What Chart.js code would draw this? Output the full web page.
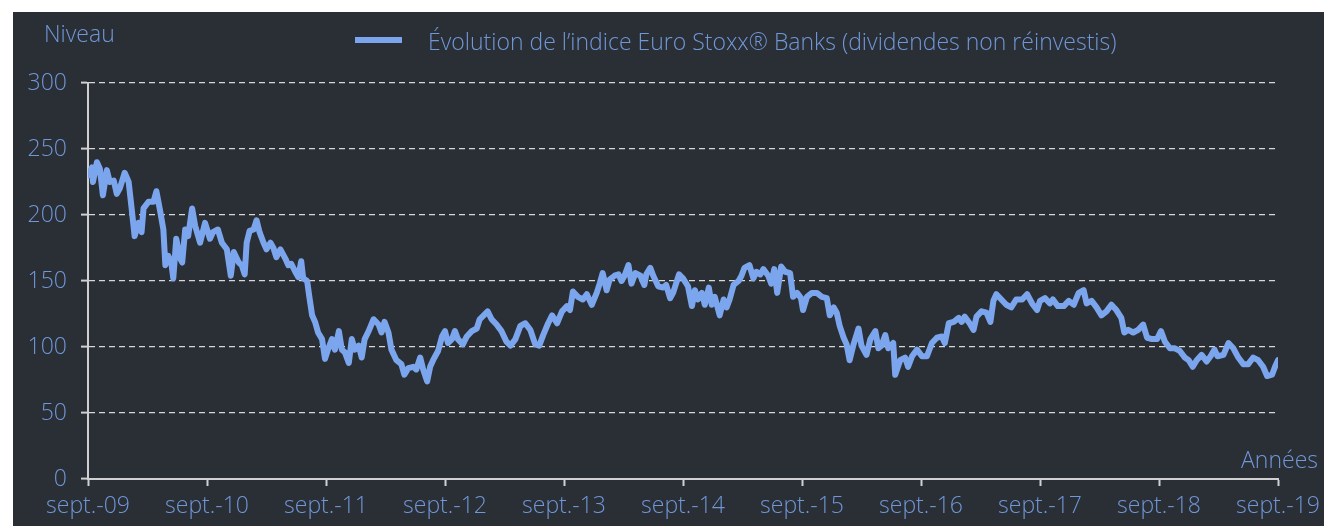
<!DOCTYPE html>
<html lang="fr">
<head>
<meta charset="utf-8">
<title>Euro Stoxx Banks</title>
<script src="https://cdn.jsdelivr.net/npm/chart.js@4"></script>
<style>
  html, body { margin: 0; padding: 0; background: #ffffff; }
  #wrap {
    position: absolute; left: 13px; top: 12px;
    width: 1311px; height: 514px;
    background: #2a2e35;
  }
</style>
</head>
<body>
<div id="wrap"><canvas id="chart"></canvas></div>
<script>
// Axis labels
const yearLabels = ['sept.-09', 'sept.-10', 'sept.-11', 'sept.-12', 'sept.-13', 'sept.-14',
                    'sept.-15', 'sept.-16', 'sept.-17', 'sept.-18', 'sept.-19'];
const seriesLabel = 'Évolution de l\u2019indice Euro Stoxx® Banks (dividendes non réinvestis)';
const yTitle = 'Niveau';
const xTitle = 'Années';

// Months since sept. 2009 and index level
const months = [
  0, 0.4, 0.5, 0.9, 1.2, 1.5, 1.9, 2.2, 2.6, 2.9, 3.2, 3.7, 4.1, 4.4, 4.7, 5.1, 5.4, 5.6, 6.1, 6.6,
  6.9, 7.3, 7.6, 7.8, 8.1, 8.4, 8.6, 8.9, 9.3, 9.5, 9.8, 10.1, 10.5, 10.8, 11.3, 11.8, 12.3, 12.6, 13.1, 13.5,
  14.0, 14.4, 14.7, 15.2, 15.5, 15.8, 16.0, 16.3, 16.7, 17.0, 17.3, 17.7, 18.0, 18.4, 18.7, 19.0, 19.4, 19.9, 20.2, 20.5,
  20.9, 21.2, 21.5, 21.7, 22.1, 22.3, 22.6, 22.9, 23.2, 23.6, 23.9, 24.2, 24.6, 24.9, 25.3, 25.6, 25.9, 26.3, 26.6, 26.9,
  27.3, 27.6, 27.9, 28.3, 28.8, 29.3, 29.6,
  29.9, 30.3, 30.6, 31.1, 31.6, 31.9, 32.3, 32.8, 33.1, 33.5, 33.8, 34.2, 34.5, 34.8, 35.3, 35.7, 36.0, 36.3, 36.7, 37.0,
  37.3, 37.8, 38.2, 38.7, 39.2, 39.5, 39.9, 40.3, 40.7, 41.2, 41.7, 42.2, 42.6, 43.1, 43.6, 44.1, 44.6, 45.1, 45.5, 45.9,
  46.4, 46.8, 47.3, 47.8, 48.3, 48.6, 48.9, 49.4, 49.9, 50.3, 50.8, 51.3, 51.6, 51.9, 52.3, 52.6, 53.1, 53.5, 53.8, 54.1,
  54.5, 54.8, 55.2, 55.7, 56.1, 56.3, 56.7, 57.0, 57.5, 58.0, 58.3, 58.7, 59.0,
  59.6, 60.0, 60.5, 60.9, 61.2, 61.5, 61.9, 62.2, 62.6, 62.9, 63.2, 63.7, 64.1, 64.4, 64.7, 65.1, 65.6, 65.9, 66.2, 66.7,
  67.1, 67.4, 67.8, 68.1, 68.6, 68.9, 69.2, 69.5, 69.9, 70.3, 70.8, 71.1, 71.5, 71.9, 72.1, 72.5, 73.0, 73.5, 74.0, 74.5,
  74.8, 75.2, 75.5, 75.8, 76.2, 76.5, 76.8, 77.2, 77.7, 78.0, 78.5, 78.9, 79.4, 79.7, 80.0, 80.4, 80.7, 81.2, 81.4, 81.9,
  82.4, 82.7, 83.1, 83.6, 84.1, 84.6, 85.1, 85.6, 86.1, 86.4, 86.8, 87.3, 87.8, 88.1, 88.4,
  88.9, 89.3, 89.6, 90.1, 90.6, 91.0, 91.3, 91.6, 92.1, 92.6, 93.1, 93.6, 94.2, 94.7, 95.2, 95.7, 96.0, 96.5, 97.0, 97.3,
  97.8, 98.4, 98.9, 99.4, 99.9, 100.4, 100.7, 101.2, 101.7, 102.2, 102.7, 103.2, 103.7, 104.2, 104.5, 104.9, 105.4, 105.9, 106.4, 106.8,
  107.3, 107.8, 108.2, 108.6, 109.1, 109.6, 110.1, 110.6, 111.0, 111.4, 111.8, 112.3, 112.8, 113.2, 113.6, 113.9, 114.5, 115.0, 115.5, 116.0,
  116.5, 117.0, 117.5, 118.0, 118.5, 118.9, 119.4, 119.7, 120.0
];
const values = [
  230, 236, 225, 240, 235, 215, 234, 225, 226, 216, 220, 232, 225, 205, 184, 194, 187, 205, 210, 210,
  218, 202, 189, 162, 169, 164, 152, 182, 167, 164, 189, 184, 205, 192, 179, 194, 182, 187, 189, 179,
  174, 154, 172, 164, 162, 155, 179, 188, 189, 196, 187, 179, 174, 179, 175, 168, 174, 167, 162, 163,
  157, 153, 165, 152, 150, 139, 124, 119, 111, 106, 91, 98, 106, 98, 112, 98, 96, 88, 106, 98,
  101, 92, 106, 112, 121, 117, 111,
  119, 111, 98, 90, 87, 79, 84, 85, 83, 92, 83, 74, 85, 90, 97, 108, 112, 103, 106, 112,
  106, 102, 108, 112, 114, 121, 124, 127, 121, 117, 112, 104, 101, 106, 116, 118, 113, 102, 101, 109,
  118, 124, 118, 127, 131, 128, 142, 138, 136, 140, 132, 141, 148, 156, 143, 151, 154, 155, 150, 154,
  162, 148, 156, 154, 147, 155, 160, 154, 146, 145, 147, 137, 141,
  155, 152, 146, 131, 143, 136, 141, 132, 145, 132, 138, 124, 136, 130, 136, 147, 150, 154, 160, 162,
  152, 157, 155, 159, 154, 148, 159, 141, 161, 157, 156, 138, 141, 137, 128, 138, 141, 141, 138, 137,
  124, 130, 126, 116, 107, 102, 90, 102, 114, 101, 94, 106, 112, 99, 101, 109, 99, 103, 79, 90,
  92, 85, 93, 98, 93, 93, 103, 107, 108, 103, 118, 119, 122, 119, 123,
  118, 113, 123, 127, 126, 119, 135, 140, 136, 132, 130, 136, 136, 140, 133, 128, 135, 137, 133, 136,
  131, 131, 135, 132, 141, 143, 133, 135, 130, 124, 127, 132, 128, 122, 111, 113, 111, 113, 117, 107,
  106, 106, 112, 104, 99, 99, 97, 92, 90, 85, 90, 94, 89, 93, 98, 93, 94, 103, 99, 92,
  87, 87, 92, 90, 85, 78, 79, 85, 90
];

const lineColor = '#7ba6ee';
const textColor = '#7097d8';
const axisColor = '#cfd0d2';
const fontFamily = '"Open Sans", "DejaVu Sans", sans-serif';
const fontSize = 23;

// Titles and legend drawn on the canvas
const labelsPlugin = {
  id: 'labels',
  afterDraw(chart) {
    const ctx = chart.ctx;
    const area = chart.chartArea;
    ctx.save();
    ctx.font = '300 ' + fontSize + 'px ' + fontFamily;
    ctx.fillStyle = textColor;
    ctx.textBaseline = 'middle';
    ctx.textAlign = 'left';
    ctx.fillText(yTitle, area.left - 44, 23);
    ctx.textAlign = 'right';
    ctx.fillText(xTitle, chart.width - 6, area.bottom - 18);
    // legend
    ctx.fillStyle = lineColor;
    ctx.fillRect(342, 25, 47, 6);
    ctx.fillStyle = textColor;
    ctx.textAlign = 'left';
    ctx.fillText(seriesLabel, 415, 31);
    ctx.restore();
  }
};

const ctx = document.getElementById('chart');
new Chart(ctx, {
  type: 'line',
  data: {
    datasets: [{
      label: seriesLabel,
      data: months.map((m, i) => ({ x: m, y: values[i] })),
      borderColor: lineColor,
      borderWidth: 6,
      borderJoinStyle: 'round',
      borderCapStyle: 'round',
      pointRadius: 0,
      tension: 0,
      fill: false
    }]
  },
  options: {
    responsive: true,
    maintainAspectRatio: false,
    animation: false,
    layout: { padding: { top: 71, right: 46, left: 0, bottom: 0 } },
    plugins: {
      legend: { display: false },
      tooltip: { enabled: false }
    },
    scales: {
      x: {
        type: 'linear',
        min: 0,
        max: 120,
        afterFit(scale) {
          scale.height = 47;
          scale.paddingLeft = 0;
          scale.paddingRight = 0;
        },
        ticks: {
          stepSize: 12,
          color: textColor,
          font: { family: fontFamily, size: fontSize, weight: '300' },
          padding: 7,
          maxRotation: 0,
          autoSkip: false,
          callback: (v) => yearLabels[Math.round(v / 12)]
        },
        grid: {
          drawOnChartArea: false,
          drawTicks: true,
          tickLength: 7,
          tickColor: axisColor,
          tickWidth: 2
        },
        border: { display: true, color: axisColor, width: 2 }
      },
      y: {
        min: 0,
        max: 300,
        afterFit(scale) {
          scale.width = 75;
          scale.paddingTop = 0;
          scale.paddingBottom = 0;
        },
        ticks: {
          stepSize: 50,
          color: textColor,
          font: { family: fontFamily, size: fontSize, weight: '300' },
          padding: 14
        },
        grid: {
          color: '#d6d7d9',
          lineWidth: 1.2,
          tickLength: 7,
          tickColor: axisColor,
          tickWidth: 2,
          tickBorderDash: []
        },
        border: { display: true, color: axisColor, width: 2, dash: [6, 4] }
      }
    }
  },
  plugins: [labelsPlugin]
});
</script>
</body>
</html>
